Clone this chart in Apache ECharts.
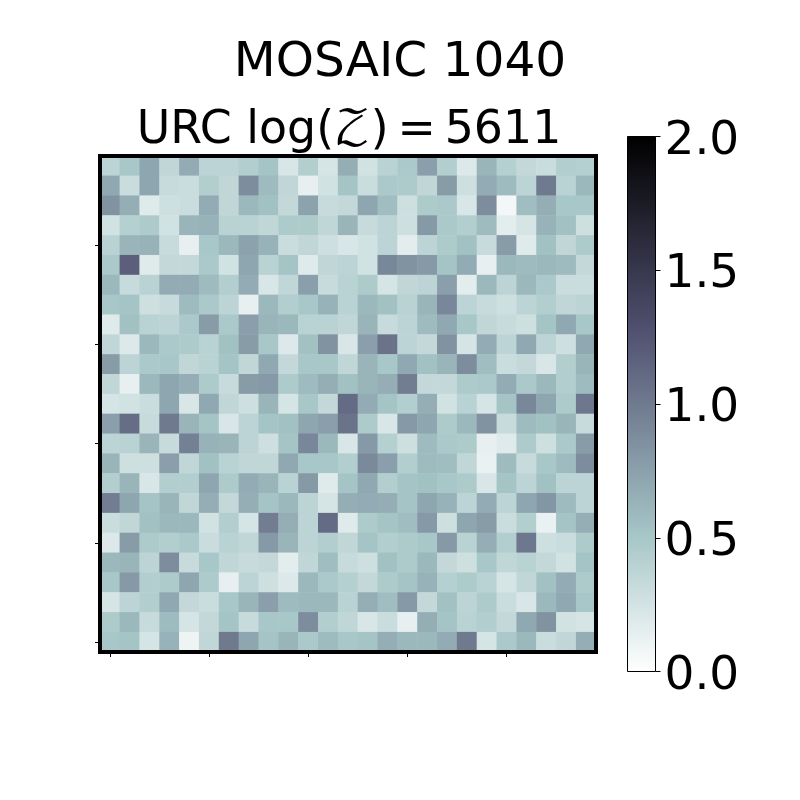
<!DOCTYPE html>
<html>
<head>
<meta charset="utf-8">
<style>
  html, body { margin: 0; padding: 0; background: #fff; }
  #chart { width: 800px; height: 800px; }
</style>
<script src="https://cdn.jsdelivr.net/npm/echarts@6/dist/echarts.min.js"></script>
</head>
<body>
<div id="chart"></div>
<script>
  // values, top row first
  var rows = [
    [.38,.50,.72,.36,.68,.38,.38,.44,.52,.22,.44,.24,.66,.26,.40,.48,.76,.44,.20,.62,.42,.34,.30,.44,.42],
    [.70,.30,.72,.32,.30,.44,.36,.88,.58,.36,.14,.26,.52,.30,.48,.46,.36,.78,.28,.68,.58,.38,1.0,.40,.60],
    [.84,.66,.18,.28,.30,.68,.36,.60,.54,.34,.74,.32,.34,.72,.56,.28,.46,.48,.22,.88,.07,.56,.66,.50,.50],
    [.26,.42,.46,.26,.62,.64,.40,.40,.36,.46,.46,.36,.62,.32,.38,.28,.80,.48,.44,.58,.16,.24,.64,.54,.28],
    [.40,.62,.64,.32,.14,.50,.60,.74,.64,.30,.36,.28,.22,.26,.38,.16,.38,.46,.54,.32,.78,.18,.54,.36,.46],
    [.48,1.18,.18,.34,.34,.48,.26,.72,.40,.52,.18,.36,.38,.26,.92,.84,.80,.52,.68,.14,.60,.58,.60,.58,.34],
    [.60,.32,.40,.68,.68,.58,.44,.68,.22,.36,.76,.32,.40,.46,.24,.36,.38,.76,.16,.60,.38,.60,.48,.30,.30],
    [.50,.52,.28,.32,.58,.48,.38,.14,.60,.44,.50,.64,.40,.60,.54,.40,.62,.92,.38,.32,.28,.38,.44,.36,.38],
    [.18,.54,.40,.38,.48,.78,.48,.76,.62,.60,.40,.40,.36,.62,.32,.38,.58,.70,.50,.36,.32,.28,.52,.70,.50],
    [.36,.20,.60,.48,.46,.40,.54,.78,.50,.20,.54,.84,.22,.76,1.05,.38,.34,.84,.24,.68,.38,.70,.38,.28,.70],
    [.78,.38,.48,.50,.36,.40,.52,.36,.70,.34,.50,.50,.36,.62,.50,.70,.54,.62,.88,.56,.30,.34,.22,.44,.62],
    [.36,.14,.60,.72,.66,.46,.32,.78,.80,.46,.58,.66,.54,.62,.66,.98,.34,.34,.46,.48,.68,.48,.60,.44,.58],
    [.24,.26,.30,.72,.22,.70,.36,.28,.62,.24,.50,.34,1.10,.68,.52,.44,.66,.26,.40,.24,.52,.92,.72,.46,1.02],
    [.76,1.08,.32,1.0,.62,.52,.22,.38,.52,.54,.72,.76,1.05,.46,.22,.80,.72,.46,.60,.84,.32,.58,.54,.62,.32],
    [.38,.40,.62,.32,.96,.64,.62,.38,.28,.52,.92,.60,.22,.80,.42,.28,.58,.48,.46,.14,.18,.46,.28,.48,.78],
    [.62,.28,.28,.76,.36,.54,.40,.36,.36,.70,.50,.50,.44,.90,.76,.44,.58,.56,.36,.12,.58,.32,.50,.58,.88],
    [.44,.62,.22,.44,.44,.72,.46,.68,.62,.40,.80,.18,.52,.70,.44,.52,.54,.50,.46,.22,.52,.38,.54,.38,.38],
    [.98,.72,.52,.62,.36,.66,.34,.66,.52,.60,.38,.24,.66,.68,.66,.52,.72,.64,.38,.68,.38,.72,.82,.58,.38],
    [.30,.36,.54,.60,.60,.26,.44,.24,.98,.66,.38,1.10,.18,.46,.52,.56,.80,.28,.72,.78,.30,.44,.12,.52,.66],
    [.20,.78,.46,.44,.48,.30,.40,.36,.80,.62,.38,.44,.36,.52,.44,.46,.50,.80,.40,.66,.44,1.02,.28,.30,.46],
    [.60,.62,.38,.88,.32,.50,.36,.32,.34,.16,.36,.56,.32,.28,.54,.46,.60,.34,.28,.50,.36,.40,.34,.26,.52],
    [.50,.80,.44,.46,.72,.46,.14,.38,.28,.20,.60,.48,.42,.34,.46,.52,.64,.42,.46,.40,.24,.36,.54,.68,.46],
    [.24,.38,.44,.70,.34,.30,.50,.62,.76,.58,.60,.60,.40,.66,.56,.80,.34,.54,.38,.46,.30,.22,.60,.70,.50],
    [.46,.60,.32,.58,.24,.34,.52,.32,.50,.50,.88,.44,.36,.22,.30,.14,.66,.52,.40,.44,.34,.70,.84,.26,.24],
    [.50,.52,.24,.64,.10,.36,1.0,.72,.52,.62,.48,.58,.50,.52,.66,.60,.60,.68,1.0,.24,.48,.60,.30,.36,.66]
  ];
  var xCats = rows[0].map(function (v, i) { return String(i); });
  var yCats = rows.map(function (v, i) { return String(i); });   // 0 at the bottom
  var cbMin = 0;
  var cbMax = 2;
  var cbInterval = 0.5;

  // bone_r, offset along 0..2
  var cmapStops = [
    {offset: 0, color: '#ffffff'},
    {offset: 0.254, color: '#a6c6c7'},
    {offset: 0.635, color: '#515171'},
    {offset: 1, color: '#000000'}
  ];

  function hexToRgb(h) {
    return [parseInt(h.substr(1, 2), 16), parseInt(h.substr(3, 2), 16), parseInt(h.substr(5, 2), 16)];
  }
  function cmapColor(t) {
    var i = 0;
    while (i < cmapStops.length - 2 && t > cmapStops[i + 1].offset) i++;
    var a = cmapStops[i], b = cmapStops[i + 1];
    var k = (t - a.offset) / (b.offset - a.offset);
    var ca = hexToRgb(a.color), cb = hexToRgb(b.color);
    return 'rgb(' + ca.map(function (c, n) { return Math.round(c + (cb[n] - c) * k); }).join(',') + ')';
  }
  var cmapColors = [];
  for (var n = 0; n <= 64; n++) cmapColors.push(cmapColor(n / 64));

  var heatData = [];
  rows.forEach(function (row, r) {
    row.forEach(function (v, c) {
      heatData.push([c, rows.length - 1 - r, v]);
    });
  });

  var font = '"DejaVu Sans"';
  var every5 = function (idx) { return idx % 5 === 0; };

  var myChart = echarts.init(document.getElementById('chart'), null, {renderer: 'canvas'});
  var option = {
    animation: false,
    backgroundColor: '#fff',
    title: [
      {
        text: 'MOSAIC 1040',
        left: 395,
        top: 34,
        textAlign: 'center',
        textStyle: {fontFamily: font, fontSize: 48.6, fontWeight: 'normal', color: '#000'}
      },
      {
        text: 'URC log({z|\uD835\uDCB5}){s| }={s| }5611',
        left: 344,
        top: 103,
        textAlign: 'center',
        textStyle: {
          fontFamily: font, fontSize: 45.8, fontWeight: 'normal', color: '#000',
          rich: {
            z: {fontFamily: '"DejaVu Math TeX Gyre", "Liberation Serif"', fontSize: 45.8, color: '#000'},
            s: {fontFamily: font, fontSize: 28, color: '#000'}
          }
        }
      }
    ],
    grid: [
      {left: 100, top: 156, width: 496, height: 496, show: true, z: 10,
        borderColor: '#000', borderWidth: 4, backgroundColor: 'transparent'},
      {left: 627.5, top: 136.5, width: 28, height: 535, show: true, z: 10,
        borderColor: '#000', borderWidth: 1, backgroundColor: 'transparent'}
    ],
    xAxis: [
      {
        type: 'category', gridIndex: 0, data: xCats,
        axisLine: {show: false},
        axisLabel: {show: false},
        axisTick: {show: true, alignWithLabel: true, interval: every5, length: 5, lineStyle: {color: '#000', width: 1}},
        splitLine: {show: false}
      },
      {type: 'category', gridIndex: 1, data: ['cb'], show: false}
    ],
    yAxis: [
      {
        type: 'category', gridIndex: 0, data: yCats,
        axisLine: {show: false},
        axisLabel: {show: false},
        axisTick: {show: true, alignWithLabel: true, interval: every5, length: 5, lineStyle: {color: '#000', width: 1}},
        splitLine: {show: false}
      },
      {
        type: 'value', gridIndex: 1, position: 'right',
        min: cbMin, max: cbMax, interval: cbInterval,
        axisLine: {show: false},
        axisTick: {show: true, length: 5, lineStyle: {color: '#000', width: 1}},
        splitLine: {show: false},
        axisLabel: {
          show: true, margin: 9,
          formatter: function (v) { return '{a|' + v.toFixed(1) + '}'; },
          rich: {a: {fontFamily: font, fontSize: 47, color: '#000', padding: [10, 0, 0, 0]}}
        }
      }
    ],
    visualMap: {
      show: false, type: 'continuous', seriesIndex: 0,
      min: cbMin, max: cbMax, dimension: 2,
      inRange: {color: cmapColors}
    },
    series: [
      {
        type: 'heatmap', xAxisIndex: 0, yAxisIndex: 0,
        data: heatData, progressive: 0, silent: true,
        itemStyle: {borderWidth: 0}
      },
      {
        type: 'bar', xAxisIndex: 1, yAxisIndex: 1,
        data: [cbMax], barWidth: '100%', silent: true,
        itemStyle: {
          color: new echarts.graphic.LinearGradient(0, 1, 0, 0, cmapStops)
        }
      }
    ]
  };
  option && myChart.setOption(option);
</script>
</body>
</html>
